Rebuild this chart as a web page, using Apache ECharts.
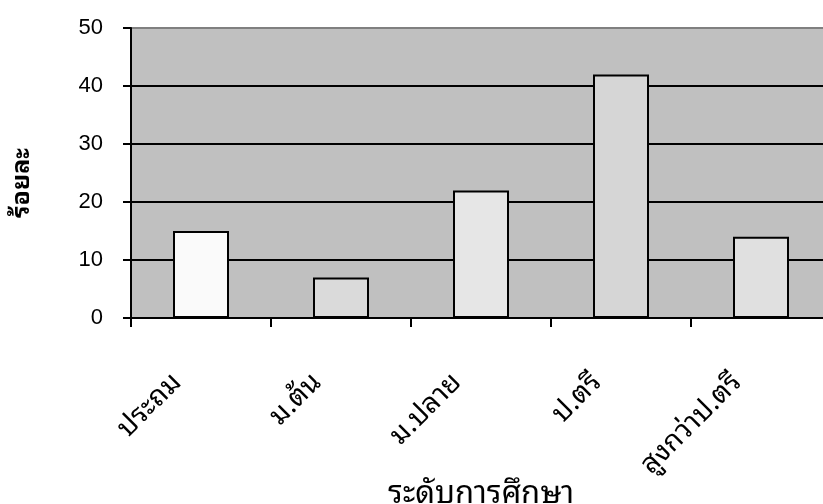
<!DOCTYPE html>
<html><head><meta charset="utf-8">
<script src="https://cdn.jsdelivr.net/npm/echarts@6/dist/echarts.min.js"></script>
<style>html,body{margin:0;padding:0;background:#fff}#c{width:823px;height:504px}</style>
</head><body><div id="c"></div>
<script>
const categories = ['ประถม', 'ม.ต้น', 'ม.ปลาย', 'ป.ตรี', 'สูงกว่าป.ตรี'];
const values = [15, 7, 22, 42, 14];
const barColors = ['#fafafa', '#dadada', '#e6e6e6', '#d6d6d6', '#e0e0e0'];
const yTicks = [0, 10, 20, 30, 40, 50];
const xTitle = 'ระดับการศึกษา';
const yTitle = 'ร้อยละ';

const thaiFont = '"Noto Sans Thai Looped", "Noto Sans Thai", Tahoma, "Noto Sans", sans-serif';
const chart = echarts.init(document.getElementById('c'), null, {renderer: 'canvas'});
chart.setOption({
  animation: false,
  grid: {left: 131, top: 28, bottom: 186, right: -8, outerBoundsMode: 'none', containLabel: false,
         show: true, backgroundColor: '#c0c0c0', borderWidth: 0},
  xAxis: {
    type: 'category', data: categories, boundaryGap: true,
    axisLine: {lineStyle: {color: '#000', width: 2}},
    axisTick: {show: true, length: 9, lineStyle: {color: '#000', width: 2}, alignWithLabel: false},
    axisLabel: {rotate: 45, margin: 36, padding: [0, 34, 0, 0], fontSize: 28, color: '#000', fontFamily: thaiFont, interval: 0},
    name: xTitle, nameLocation: 'middle', nameGap: 161, nameMoveOverlap: false,
    nameTextStyle: {fontSize: 31, color: '#000', fontFamily: thaiFont}
  },
  yAxis: {
    type: 'value', min: yTicks[0], max: yTicks[yTicks.length - 1], interval: 10,
    axisLine: {show: true, lineStyle: {color: '#000', width: 2}},
    axisTick: {show: true, length: 8, lineStyle: {color: '#000', width: 2}},
    axisLabel: {fontSize: 22, color: '#000', fontFamily: 'Liberation Sans, Arial', margin: 28},
    splitLine: {show: true, lineStyle: {color: ['#000', '#000', '#000', '#000', '#000', '#808080'], width: 2}},
    name: yTitle, nameLocation: 'middle', nameRotate: 90, nameGap: 97, nameMoveOverlap: false,
    nameTextStyle: {fontSize: 25, fontWeight: 'bold', color: '#000', fontFamily: thaiFont, padding: [0, 20, 0, 0]}
  },
  series: [{
    type: 'bar', barWidth: '40%',
    data: values.map((v, i) => ({value: v, itemStyle: {color: barColors[i]}})),
    itemStyle: {borderColor: '#000', borderWidth: 2}
  }]
});
</script></body></html>
